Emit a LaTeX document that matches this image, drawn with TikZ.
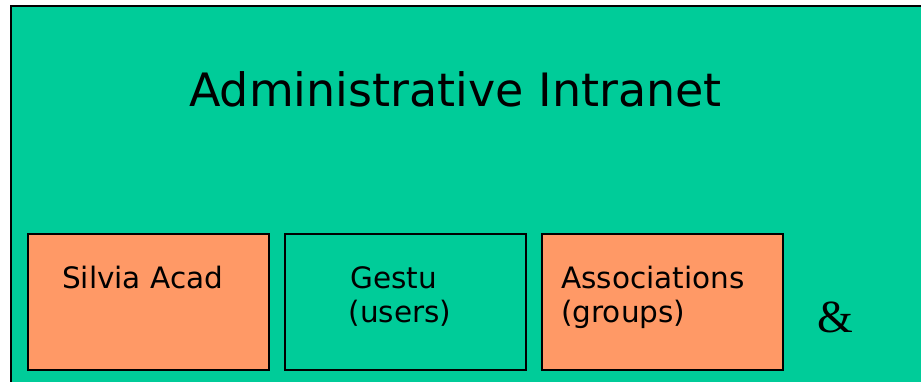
\documentclass[tikz,border=0pt]{standalone}
\usepackage{fontspec}
\setmainfont{DejaVu Sans}
\newfontfamily\ampfont{Liberation Serif}
\definecolor{intranetgreen}{HTML}{00CC99}
\definecolor{appsorange}{HTML}{FF9966}
\tikzset{
  frame/.style={draw=black, line width=2pt, fill=intranetgreen},
  appbox/.style={draw=black, line width=2pt, minimum width=241pt, minimum height=135.5pt, anchor=north west, inner sep=0pt},
  applabel/.style={anchor=base west, inner sep=0pt, font=\fontsize{29.5}{34}\selectfont, align=left},
}
\begin{document}
\begin{tikzpicture}[x=1pt, y=-1pt]
\useasboundingbox (0,0) rectangle (921,382);
\clip (0,0) rectangle (921,382);
% outer intranet frame, running off the right and bottom edges
\path[frame] (11,6) rectangle (940,400);
\node[anchor=base west, inner sep=0pt, font=\fontsize{46}{50}\selectfont] (title) at (189,106.5) {Administrative Intranet};
% application boxes
\node[appbox, fill=appsorange] (acad) at (27,233.5) {};
\node[appbox, fill=intranetgreen] (gestu) at (284,233.5) {};
\node[appbox, fill=appsorange] (assoc) at (541,233.5) {};
% labels: the base anchor of a two-line label sits on its last line
\node[applabel] (acadtxt) at (62,288.5) {Silvia Acad};
\node[applabel] (gestutxt) at (348.5,322.5) {\hspace*{1.5pt}Gestu\\(users)};
\node[applabel] (assoctxt) at (561,322.5) {Associations\\(groups)};
\node[anchor=base west, inner sep=0pt, font=\ampfont\fontsize{46}{50}\selectfont] (amp) at (817,332.5) {\&};
\end{tikzpicture}
\end{document}
